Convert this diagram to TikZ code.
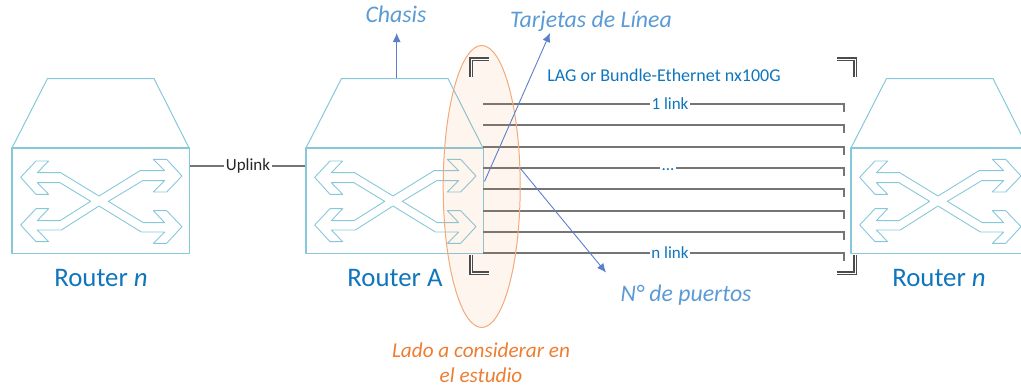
\documentclass[tikz,border=0pt]{standalone}
\usepackage{fontspec}
\setmainfont{Carlito}
\usetikzlibrary{arrows.meta,shapes.geometric}
\definecolor{routerline}{HTML}{86C8DA}
\definecolor{routertext}{HTML}{0F75BC}
\definecolor{notetext}{HTML}{5B9BD5}
\definecolor{notearrow}{HTML}{5B7FCC}
\definecolor{sidecolor}{HTML}{F4A97A}
\definecolor{sidetext}{HTML}{ED7D31}
\definecolor{linkline}{HTML}{757575}
\tikzset{
  routerbody/.style={draw=routerline,line width=1pt,line join=round},
  routername/.style={text=routertext,font=\fontsize{26.8}{30}\selectfont},
  linkdraw/.style={draw=linkline,line width=1.2pt},
  linkname/.style={text=routertext,fill=white,inner sep=1.5pt,font=\fontsize{17}{20}\selectfont},
  note/.style={text=notetext,font=\itshape\fontsize{23.8}{28}\selectfont},
  sidenote/.style={text=sidetext,font=\itshape\fontsize{21.2}{25}\selectfont},
  notedraw/.style={draw=notearrow,line width=0.9pt,-{Latex[length=9pt,width=8pt]}},
  corner/.style={draw=black!70,line width=1.8pt,double=white,double distance=0.6pt},
  pics/router/.style={code={
    \node[routerbody,line width=1.5pt,minimum width=177.5pt,minimum height=105.5pt,inner sep=0pt] (-box) at (100.5,200.5){};
    \draw[routerbody] (12,148)--(47.5,78.5)--(154,78.5)--(189,148);
    \draw[routerbody,line width=0.9pt,shift={(0,60)},scale=1/3] (62,352)--(108,303)--(146,303)--(112,338)--(182,338)--(297,408)--(420,332)--(494,332)--(460,298)--(500,298)--(546,348)--(500,396)--(460,396)--(494,362)--(428,362)--(325,424)--(430,488)--(494,488)--(460,452)--(500,452)--(546,500)--(500,550)--(460,550)--(494,516)--(424,516)--(297,438)--(184,510)--(112,510)--(146,545)--(108,545)--(62,495)--(108,446)--(146,446)--(112,482)--(180,482)--(272,424)--(180,368)--(112,368)--(146,403)--(108,403)--cycle;
  }}
}
\begin{document}
\begin{tikzpicture}[x=1pt,y=-1pt]
\useasboundingbox (0,0) rectangle (1021,388);

\pic (RL) at (0,0) {router};
\pic (RA) at (294,0) {router};
\pic (RR) at (839,0) {router};

\node[routername] (NL) at (101,278){Router \textit{n}};
\node[routername] (NA) at (395,278){Router A};
\node[routername] (NR) at (939,278){Router \textit{n}};

\node[text=black!85,inner sep=1.5pt,font=\fontsize{17}{20}\selectfont] (UP) at (248,166){Uplink};
\draw[linkdraw] (RL-box.east |- UP)--(UP);
\draw[linkdraw] (UP)--(RA-box.west |- UP);

\coordinate (A1) at (483,104); \coordinate (B1) at (844,104);
\coordinate (A2) at (483,125); \coordinate (B2) at (844,125);
\coordinate (A3) at (483,147); \coordinate (B3) at (844,147);
\coordinate (A4) at (483,168); \coordinate (B4) at (844,168);
\coordinate (A5) at (483,189); \coordinate (B5) at (844,189);
\coordinate (A6) at (483,211); \coordinate (B6) at (844,211);
\coordinate (A7) at (483,232); \coordinate (B7) at (844,232);
\coordinate (A8) at (483,253); \coordinate (B8) at (844,253);

\draw[linkdraw] (A1)--(B1)--++(0,8);
\draw[linkdraw] (A2)--(B2)--++(0,8);
\draw[linkdraw] (A3)--(B3)--++(0,8);
\draw[linkdraw] (A4)--(B4)--++(0,8);
\draw[linkdraw] (A5)--(B5)--++(0,8);
\draw[linkdraw] (A6)--(B6)--++(0,8);
\draw[linkdraw] (A7)--(B7)--++(0,8);
\draw[linkdraw] (A8)--(B8)--++(0,8);

\node[linkname] (K1) at (670,104){1 link};
\node[linkname] (K4) at (668,170){...};
\node[linkname] (K8) at (670,253){n link};
\node[text=routertext,font=\fontsize{18}{21}\selectfont] (LAG) at (664,75){LAG or Bundle-Ethernet nx100G};

\node[ellipse,draw=sidecolor,line width=1pt,fill=sidetext,fill opacity=0.08,minimum width=77pt,minimum height=282pt,inner sep=0pt] (SIDE) at (481.7,186.5){};

\draw[corner] (489,59)--(471,59)--(471,77);
\draw[corner] (837,59)--(855,59)--(855,77);
\draw[corner] (471,255)--(471,273)--(489,273);
\draw[corner] (855,255)--(855,273)--(837,273);

\node[note] (CH) at (396,14){Chasis};
\node[note] (TJ) at (591,21){Tarjetas de Línea};
\node[note] (NP) at (686,295){N° de puertos};
\node[sidenote] (L1) at (481,350){Lado a considerar en};
\node[sidenote] (L2) at (481,375){el estudio};

\coordinate (CH0) at (396.7,78);
\coordinate (CH1) at (396.7,33);
\coordinate (TJ0) at (484.5,181.5);
\coordinate (TJ1) at (550,33);
\coordinate (NP0) at (520,168);
\coordinate (NP1) at (606,272.5);
\draw[notedraw] (CH0)--(CH1);
\draw[notedraw] (TJ0)--(TJ1);
\draw[notedraw] (NP0)--(NP1);

\end{tikzpicture}
\end{document}
